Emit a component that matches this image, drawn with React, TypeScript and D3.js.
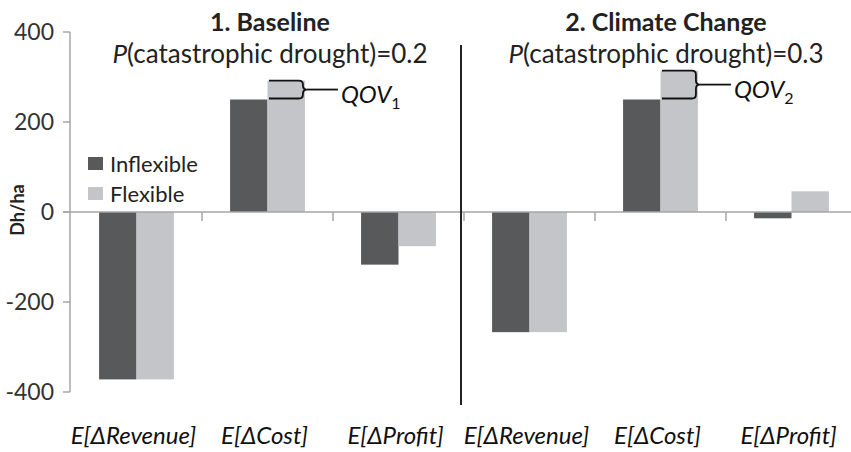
import React from "react";
import * as d3 from "d3";

const categories = ["E[ΔRevenue]", "E[ΔCost]", "E[ΔProfit]", "E[ΔRevenue]", "E[ΔCost]", "E[ΔProfit]"];
const inflexible = [-372, 250, -117, -267, 250, -14];
const flexible = [-372, 292, -76, -267, 314, 46];
const yTicks = [-400, -200, 0, 200, 400];
const seriesNames = ["Inflexible", "Flexible"];
const panelTitles = ["1. Baseline", "2. Climate Change"];
const panelProbs = ["0.2", "0.3"];
const qovIndex = [1, 4];
const qovSub = ["1", "2"];

const W = 851, H = 452;
const FONT = "Lato, 'Open Sans', sans-serif";
const COL_IN = "#58595b";
const COL_FL = "#c4c5c8";
const AXIS = "#a6a6a6";

export default function App() {
  const y = d3.scaleLinear().domain([-400, 400]).range([392, 32]);
  const x = d3.scaleBand<number>().domain(d3.range(6)).range([71, 857]);
  const bw = x.bandwidth();
  const barW = bw / 3.5;
  const y0 = y(0);
  const sep = (x(3) as number) - 3;

  return (
    <svg width={W} height={H} style={{ position: "absolute", left: 0, top: 0, background: "#fff" }} fontFamily={FONT}>
      <rect x={0} y={0} width={W} height={H} fill="#fff" />
      {/* y axis */}
      <line x1={70} x2={70} y1={y(400)} y2={y(-400)} stroke={AXIS} strokeWidth={1.5} />
      {yTicks.map((t) => (
        <g key={t}>
          <line x1={63} x2={70} y1={y(t)} y2={y(t)} stroke={AXIS} strokeWidth={1.5} />
          <text x={54} y={y(t)} dy="0.35em" textAnchor="end" fontSize={23} fill="#333">{t}</text>
        </g>
      ))}
      <text transform={`translate(24,${y0 - 2}) rotate(-90)`} textAnchor="middle" fontSize={18} fontWeight="bold" fill="#222">Dh/ha</text>

      {/* bars */}
      {categories.map((c, i) => {
        const cx = (x(i) as number) + bw / 2;
        const a = inflexible[i], b = flexible[i];
        return (
          <g key={i}>
            <rect x={cx - barW} y={Math.min(y(a), y0)} width={barW} height={Math.abs(y(a) - y0)} fill={COL_IN} />
            <rect x={cx} y={Math.min(y(b), y0)} width={barW} height={Math.abs(y(b) - y0)} fill={COL_FL} />
          </g>
        );
      })}

      {/* x axis */}
      <line x1={63} x2={W} y1={y0} y2={y0} stroke={AXIS} strokeWidth={1.5} />
      {d3.range(1, 6).map((k) => (
        <line key={k} x1={x(k) as number} x2={x(k) as number} y1={y0} y2={y0 + 9} stroke={AXIS} strokeWidth={1.5} />
      ))}
      {categories.map((c, i) => (
        <text key={i} x={(x(i) as number) + bw / 2 - 3} y={444} textAnchor="middle" fontSize={24} fontStyle="italic" fill="#111">{c}</text>
      ))}

      {/* separator */}
      <line x1={sep} x2={sep} y1={45} y2={405} stroke="#222" strokeWidth={2} />

      {/* titles */}
      {panelTitles.map((t, p) => {
        const cx = p === 0 ? 270 : 666;
        return (
          <g key={p}>
            <text x={cx} y={31} textAnchor="middle" fontSize={25} fontWeight="bold" fill="#222">{t}</text>
            <text x={cx} y={63} textAnchor="middle" fontSize={26} fill="#222">
              <tspan fontStyle="italic">P</tspan>(catastrophic drought)={panelProbs[p]}
            </text>
          </g>
        );
      })}

      {/* QOV braces */}
      {qovIndex.map((i, p) => {
        const cx = (x(i) as number) + bw / 2;
        const x0 = cx + 1.5;
        const x1 = cx + barW - 2;
        const yT = y(flexible[i]);
        const yB = y(inflexible[i]) - 1;
        const ym = (yT + yB) / 2;
        const r = 4;
        const d = `M${x0},${yT} L${x1 - r},${yT} Q${x1},${yT} ${x1},${yT + r} L${x1},${ym - r} Q${x1},${ym} ${x1 + r},${ym} Q${x1},${ym} ${x1},${ym + r} L${x1},${yB - r} Q${x1},${yB} ${x1 - r},${yB} L${x0},${yB}`;
        return (
          <g key={p}>
            <path d={d} fill="none" stroke="#111" strokeWidth={1.8} />
            <line x1={x1 + r} x2={x1 + 35} y1={ym} y2={ym} stroke="#111" strokeWidth={1.8} />
            <text x={x1 + 38} y={ym + 13} fontSize={24} fontStyle="italic" fill="#111">
              QOV<tspan fontStyle="normal" fontSize={16} dy={6}>{qovSub[p]}</tspan>
            </text>
          </g>
        );
      })}

      {/* legend */}
      {seriesNames.map((s, k) => (
        <g key={s} transform={`translate(88,${157 + k * 30})`}>
          <rect x={0} y={0} width={15} height={13} fill={k === 0 ? COL_IN : COL_FL} />
          <text x={22} y={7} dy="0.35em" fontSize={22} fill="#222">{s}</text>
        </g>
      ))}
    </svg>
  );
}
